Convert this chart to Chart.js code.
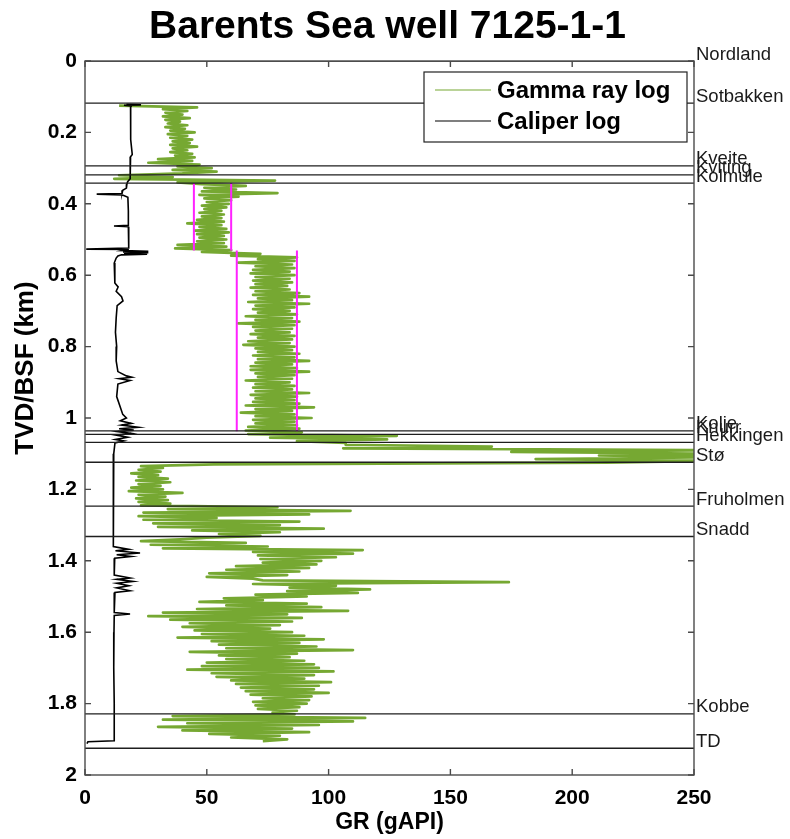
<!DOCTYPE html>
<html><head><meta charset="utf-8">
<script src="https://cdn.jsdelivr.net/npm/chart.js@4.4.1/dist/chart.umd.min.js"></script>
<style>html,body{margin:0;padding:0;background:#fff}#wrap{width:790px;height:839px;position:relative}</style>
</head><body><div id="wrap"><canvas id="c"></canvas></div>
<script>
const chartTitle = 'Barents Sea well 7125-1-1';
const xAxisTitle = 'GR (gAPI)';
const yAxisTitle = 'TVD/BSF (km)';
const xTickValues = [0, 50, 100, 150, 200, 250];
const yTickValues = [0, 0.2, 0.4, 0.6, 0.8, 1, 1.2, 1.4, 1.6, 1.8, 2];

const formationNames  = ['Nordland','Sotbakken','Kveite','Kviting','Kolmule','Kolje','Knurr','Hekkingen','Stø','Fruholmen','Snadd','Kobbe','TD'];
const formationDepths = [0, 0.118, 0.294, 0.319, 0.342, 1.036, 1.046, 1.068, 1.124, 1.247, 1.332, 1.829, 1.925];

// Gamma ray log, sampled every 0.005 km from 0.125 km
const grTopDepth = 0.125;
const grDepthStep = 0.005;
const grValues = [
  14, 46, 32, 42, 33, 40, 32, 43, 33, 39,
  34, 42, 33, 41, 35, 45, 34, 42, 35, 44,
  36, 43, 35, 46, 36, 42, 35, 44, 37, 45,
  30, 44, 26, 47, 38, 52, 36, 54, 40, 14,
  36, 12, 78, 38, 48, 66, 49, 62, 48, 79,
  47, 63, 49, 60, 50, 59, 48, 58, 49, 56,
  47, 57, 48, 56, 46, 57, 42, 56, 47, 58,
  45, 59, 46, 57, 47, 58, 46, 57, 38, 58,
  37, 60, 48, 72, 60, 87, 71, 86, 63, 85,
  70, 86, 69, 84, 68, 86, 70, 84, 69, 85,
  70, 83, 68, 84, 70, 88, 69, 92, 71, 85,
  67, 92, 70, 86, 69, 84, 71, 87, 66, 85,
  70, 88, 63, 86, 69, 85, 70, 84, 68, 86,
  71, 85, 67, 84, 65, 86, 70, 85, 71, 88,
  69, 86, 71, 92, 70, 85, 68, 87, 68, 92,
  70, 86, 71, 85, 66, 84, 70, 86, 69, 85,
  70, 92, 68, 87, 70, 86, 69, 88, 66, 94,
  70, 85, 64, 86, 70, 93, 69, 86, 70, 87,
  67, 88, 66, 89, 67, 128, 76, 124, 87, 107,
  107, 167, 106, 260, 175, 260, 211, 260, 185, 260,
  214, 53, 23, 32, 22, 31, 19, 30, 22, 34,
  21, 35, 22, 31, 19, 32, 18, 40, 22, 33,
  21, 34, 22, 35, 23, 79, 34, 109, 24, 92,
  22, 54, 24, 88, 28, 80, 30, 98, 44, 80,
  55, 72, 50, 39, 23, 66, 27, 75, 32, 114,
  69, 110, 71, 103, 72, 97, 73, 95, 62, 92,
  58, 88, 51, 83, 50, 69, 73, 174, 69, 103,
  84, 117, 83, 112, 70, 91, 57, 73, 47, 91,
  58, 97, 46, 108, 32, 83, 26, 89, 35, 85,
  43, 80, 40, 76, 45, 85, 48, 90, 38, 98,
  52, 88, 55, 95, 58, 110, 43, 87, 55, 84,
  58, 90, 50, 94, 48, 96, 42, 102, 52, 94,
  54, 90, 60, 101, 62, 96, 64, 94, 66, 100,
  68, 93, 73, 92, 69, 91, 70, 88, 71, 87,
  77, 86, 36, 115, 32, 110, 42, 96, 30, 85,
  40, 92, 51, 80, 60, 83, 73
];

// Caliper log
const caliperDepths = [0.121,0.123,0.124,0.126,0.130,0.180,0.220,0.262,0.268,0.300,0.330,0.338,0.345,0.356,0.362,0.371,0.373,0.375,0.382,0.420,0.460,0.462,0.464,0.500,0.524,0.527,0.528,0.531,0.533,0.535,0.537,0.539,0.541,0.543,0.546,0.552,0.566,0.600,0.622,0.633,0.645,0.660,0.672,0.685,0.720,0.760,0.800,0.840,0.870,0.882,0.886,0.890,0.895,0.905,0.940,0.970,0.990,1.000,1.008,1.015,1.020,1.026,1.030,1.034,1.038,1.043,1.048,1.054,1.060,1.064,1.070,1.100,1.200,1.300,1.360,1.368,1.372,1.378,1.383,1.388,1.393,1.440,1.448,1.452,1.458,1.463,1.470,1.476,1.484,1.489,1.545,1.549,1.553,1.600,1.700,1.800,1.880,1.904,1.907,1.912];
const caliperValues = [17,23,16,19,18.7,18.7,18.8,19.4,18.7,18.6,18.5,17.5,17.2,17.0,15.5,15.2,4.8,15.2,17.6,17.8,17.8,11.9,17.8,17.9,18.0,0.5,18,15.6,26,15.6,26,16,25.5,15,13.5,12.8,12,12.2,12.3,13.6,12.8,15,15.6,13.2,12.8,12.5,13,12.8,13.5,17,19.2,14,18.5,13.5,13,14.5,15.5,17,14.5,19,15,21.8,14,20,13.5,19,12.8,17.5,12.5,16,12.3,11.8,11.5,11.6,11.8,18,12.5,22.6,13,19,12.2,12,18.5,13,19.7,13,18,13,18.5,12.3,12,18.5,12,11.9,11.8,12,12,12,1.2,0.8];

// GR cut-off lines (magenta)
const cutoffGR   = [44.7, 60, 62.3, 87];
const cutoffTop  = [0.342, 0.342, 0.531, 0.531];
const cutoffBase = [0.531, 0.531, 1.037, 1.037];

const GREEN = '#76a832';
const FONT = '"Liberation Sans", Arial, Helvetica, sans-serif';

const datasets = [];
datasets.push({
  label: 'Gamma ray log',
  data: grValues.map((v, i) => ({x: v, y: grTopDepth + i * grDepthStep})),
  borderColor: GREEN, borderWidth: 2.7, borderJoinStyle: 'round', order: 5
});
datasets.push({
  label: 'Caliper log',
  data: caliperValues.map((v, i) => ({x: v, y: caliperDepths[i]})),
  borderColor: '#000', borderWidth: 1.6, order: 3
});
formationDepths.forEach((d, i) => datasets.push({
  label: formationNames[i],
  data: [{x: xTickValues[0], y: d}, {x: xTickValues[xTickValues.length - 1], y: d}],
  borderColor: '#1e1e1e', borderWidth: 1.3, order: 1
}));
cutoffGR.forEach((g, i) => datasets.push({
  label: 'cutoff' + i,
  data: [{x: g, y: cutoffTop[i]}, {x: g, y: cutoffBase[i]}],
  borderColor: '#ff22ff', borderWidth: 2, order: 2
}));
datasets.forEach(ds => { ds.showLine = true; ds.pointRadius = 0; ds.fill = false; ds.tension = 0; });

const decorPlugin = {
  id: 'decor',
  afterDatasetsDraw(chart) {
    const {ctx, chartArea: a, scales: {x, y}} = chart;
    ctx.save();
    // frame + inward ticks
    ctx.strokeStyle = '#4a4a4a';
    ctx.lineWidth = 1.4;
    ctx.strokeRect(a.left, a.top, a.right - a.left, a.bottom - a.top);
    ctx.beginPath();
    const tl = 6;
    x.ticks.forEach(t => {
      const px = x.getPixelForValue(t.value);
      ctx.moveTo(px, a.bottom); ctx.lineTo(px, a.bottom - tl);
      ctx.moveTo(px, a.top); ctx.lineTo(px, a.top + tl);
    });
    y.ticks.forEach(t => {
      const py = y.getPixelForValue(t.value);
      ctx.moveTo(a.left, py); ctx.lineTo(a.left + tl, py);
      ctx.moveTo(a.right, py); ctx.lineTo(a.right - tl, py);
    });
    ctx.stroke();
    // formation names
    ctx.fillStyle = '#1a1a1a';
    ctx.font = '18.5px ' + FONT;
    ctx.textAlign = 'left';
    ctx.textBaseline = 'alphabetic';
    formationNames.forEach((n, i) => {
      ctx.fillText(n, a.right + 2, y.getPixelForValue(formationDepths[i]) - 1.5);
    });
    // title
    ctx.fillStyle = '#000';
    ctx.font = 'bold 39px ' + FONT;
    ctx.textAlign = 'center';
    ctx.fillText(chartTitle, (a.left + a.right) / 2 - 2, 38);
    // y-axis title
    ctx.save();
    ctx.translate(26, y.getPixelForValue(0.86));
    ctx.rotate(-Math.PI / 2);
    ctx.font = 'bold 26px ' + FONT;
    ctx.textAlign = 'center';
    ctx.textBaseline = 'middle';
    ctx.fillText(yAxisTitle, 0, 0);
    ctx.restore();
    // legend
    const lx = a.right - 270, ly = a.top + 11, lw = 263, lh = 70;
    ctx.fillStyle = '#fff';
    ctx.fillRect(lx, ly, lw, lh);
    ctx.strokeStyle = '#222';
    ctx.lineWidth = 1.2;
    ctx.strokeRect(lx, ly, lw, lh);
    const items = [datasets[0], datasets[1]];
    const rows = [18, 49];
    ctx.font = 'bold 24px ' + FONT;
    ctx.textAlign = 'left';
    ctx.textBaseline = 'alphabetic';
    items.forEach((ds, i) => {
      const yy = ly + rows[i];
      ctx.strokeStyle = ds.borderColor;
      ctx.lineWidth = 1.2;
      ctx.beginPath(); ctx.moveTo(lx + 11, yy); ctx.lineTo(lx + 67, yy); ctx.stroke();
      ctx.fillStyle = '#000';
      ctx.fillText(ds.label, lx + 73, yy + 8);
    });
    ctx.restore();
  }
};

new Chart(document.getElementById('c'), {
  type: 'scatter',
  data: {datasets},
  options: {
    responsive: true,
    maintainAspectRatio: false,
    animation: false,
    events: [],
    layout: {padding: {top: 61, right: 96, left: 0, bottom: 0}},
    plugins: {legend: {display: false}, tooltip: {enabled: false}, title: {display: false}},
    scales: {
      x: {
        type: 'linear', position: 'bottom',
        min: xTickValues[0], max: xTickValues[xTickValues.length - 1],
        afterBuildTicks: s => { s.ticks = xTickValues.map(v => ({value: v})); },
        afterFit: s => { s.height = 64; },
        grid: {display: false, drawTicks: false},
        border: {display: false},
        ticks: {padding: 11, color: '#000', font: {family: FONT, size: 21, weight: 'bold'}, callback: v => String(v)},
        title: {display: true, text: xAxisTitle, color: '#000', padding: {top: 0, bottom: 3}, font: {family: FONT, size: 23, weight: 'bold'}}
      },
      y: {
        type: 'linear', position: 'left', reverse: true,
        min: yTickValues[0], max: yTickValues[yTickValues.length - 1],
        afterBuildTicks: s => { s.ticks = yTickValues.map(v => ({value: v})); },
        afterFit: s => { s.width = 85; },
        grid: {display: false, drawTicks: false},
        border: {display: false},
        ticks: {padding: 8, color: '#000', font: {family: FONT, size: 21, weight: 'bold'}, callback: v => String(v)},
        title: {display: false}
      }
    }
  },
  plugins: [decorPlugin]
});
</script>
</body></html>
